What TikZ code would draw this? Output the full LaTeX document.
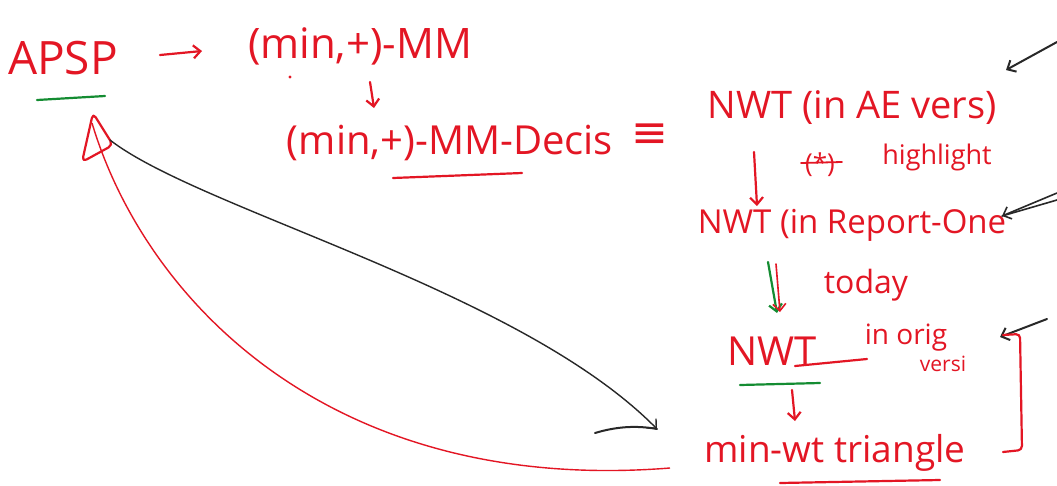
\documentclass[tikz,border=0pt]{standalone}
\usepackage{fontspec}
\setmainfont{Open Sans}
\newfontfamily\symfam{DejaVu Sans}
\usetikzlibrary{arrows.meta}
\definecolor{ink}{RGB}{227,22,36}
\definecolor{leaf}{RGB}{20,140,50}
\definecolor{pen}{RGB}{40,40,40}
\newcommand\fsz[1]{\fontsize{#1}{#1}\selectfont}
\tikzset{
  txt/.style={inner sep=0pt, text=ink, anchor=center},
  redline/.style={draw=ink, line width=2.2pt, line cap=round, line join=round},
  greenline/.style={draw=leaf, line width=2.2pt, line cap=round},
  blackline/.style={draw=pen, line width=1.4pt, line cap=round},
  barb/.style={-{Straight Barb[length=7pt,width=13pt]}},
}
\begin{document}
\begin{tikzpicture}[x=1pt,y=-1pt]
\path[fill=white] (0,0) rectangle (1057,485);
\useasboundingbox (0,0) rectangle (1057,485);

% texts
\node[txt, font=\fsz{46}] (apsp) at (63,58) {APSP};
\node[txt, font=\fsz{42}] (mm) at (360,46) {(min,+)-MM};
\node[txt, font=\fsz{40}] (decis) at (450,143) {(min,+)-MM-Decis};
\node[txt, font=\symfam\fsz{44}] (equiv) at (650,136) {≡};
\node[txt, font=\fsz{38}] (ae) at (852,108) {NWT (in AE vers)};
\node[txt, font=\fsz{26}] (star) at (820,165) {(*)};
\node[txt, font=\fsz{27}] (hl) at (937,157) {highlight};
\node[txt, font=\fsz{33}] (rep) at (852,225) {NWT (in Report-One};
\node[txt, font=\fsz{32}] (today) at (866,285) {today};
\node[txt, font=\fsz{40}] (nwt) at (772,351) {NWT};
\node[txt, font=\fsz{28}] (orig) at (906,338) {in orig};
\node[txt, font=\fsz{21}] (versi) at (943,364) {versi};
\node[txt, font=\fsz{37}] (tri) at (835,453) {min-wt triangle};

% coordinates for hand-drawn connectors
\coordinate (a1s) at (160,55); \coordinate (a1e) at (202,51);
\coordinate (a2s) at (370,82); \coordinate (a2e) at (374,108);
\coordinate (a3s) at (754,152); \coordinate (a3e) at (757,206);
\coordinate (a4s) at (768,262); \coordinate (a4e) at (777,313);
\coordinate (a5s) at (776,264); \coordinate (a5e) at (780,312);
\coordinate (a6s) at (792,390); \coordinate (a6e) at (795,421);
\coordinate (b1s) at (1057,42); \coordinate (b1e) at (1006,70);
\coordinate (b2s) at (1057,193); \coordinate (b2e) at (1002,216);
\coordinate (b2t) at (1057,200);
\coordinate (b3s) at (1047,319); \coordinate (b3e) at (1000,337);
\coordinate (tA) at (93,113); \coordinate (tB) at (82,162); \coordinate (tC) at (113,145);
\coordinate (rs) at (92,123); \coordinate (re) at (670,468);
\coordinate (ks) at (110,140); \coordinate (ke) at (657,429);

% arrows
\draw[redline, barb] (a1s) -- (a1e);
\draw[redline, barb] (a2s) -- (a2e);
\draw[redline, barb] (a3s) -- (a3e);
\draw[greenline, barb] (a4s) -- (a4e);
\draw[redline, line width=1.6pt, barb] (a5s) -- (a5e);
\draw[redline, barb] (a6s) -- (a6e);

\draw[blackline, line width=2pt, barb] (b1s) -- (b1e);
\draw[blackline, line width=1.6pt, barb] (b2s) -- (b2e);
\draw[blackline, line width=1.6pt] (b2t) -- (b2e);
\draw[blackline, line width=2pt, barb] (b3s) -- (b3e);

% triangle and curves
\draw[redline, rounded corners=5pt] (tA) -- (tB) -- (tC) -- cycle;
\draw[draw=ink, line width=1.4pt] (rs) .. controls (145,300) and (330,495) .. (re);
\draw[blackline, barb] (ks) .. controls (200,210) and (520,290) .. (ke);
\coordinate (kb) at (595,433);
\draw[blackline, line width=2pt] (kb) .. controls (615,427) and (635,425) .. (ke);

% underlines
\draw[greenline] (37,100) -- (105,96);
\draw[redline] (393,178) -- (522,173);
\draw[redline] (795,366) -- (867,359);
\draw[greenline] (740,385) -- (820,383);
\draw[redline] (780,483) -- (940,480);
% strike on (*), dot
\draw[redline, line width=1.8pt] (801,163) -- (842,162);
\fill[ink] (290,77) circle (1.6pt);

% bracket
\draw[redline, rounded corners=4pt] (1003,335) -- (1020,334) -- (1022,450) -- (1003,452);
\end{tikzpicture}
\end{document}
